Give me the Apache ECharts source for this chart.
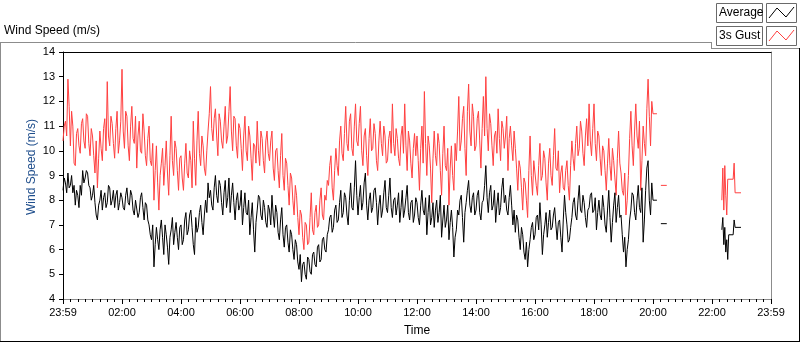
<!DOCTYPE html>
<html>
<head>
<meta charset="utf-8">
<script src="https://cdn.jsdelivr.net/npm/echarts@6/dist/echarts.min.js"></script>
<style>
  html, body { margin: 0; padding: 0; background: #fff; }
  #chart { width: 800px; height: 342px; }
</style>
</head>
<body>
<div id="chart"></div>
<script>
// minutes since midnight; main record sampled every 2.5 minutes from 00:00 to 20:00
const stepMin = 2.5;

// one row per hour
const avgMain = [
  8.4, 8.9, 8.7, 8.3, 9.1, 8.5, 8.6, 9.0, 8.3, 8.6, 7.8, 8.4, 8.2, 7.7, 8.6, 8.2, 9.2, 8.7, 8.9, 9.2, 9.1, 8.6, 8.5, 8.0,
  8.2, 8.6, 7.9, 7.4, 7.2, 7.8, 8.0, 8.4, 7.6, 8.1, 8.3, 7.7, 7.9, 8.6, 8.5, 7.8, 8.0, 8.4, 7.7, 8.2, 8.4, 7.6, 7.9, 8.3,
  8.1, 7.7, 7.6, 8.2, 8.5, 7.9, 7.8, 8.4, 8.2, 7.6, 7.4, 8.0, 8.0, 7.3, 7.5, 8.1, 8.3, 7.7, 7.2, 7.9, 7.8, 7.2, 7.0, 6.6,
  6.4, 7.0, 5.3, 6.2, 6.9, 6.4, 6.0, 6.8, 7.2, 6.5, 5.8, 7.0, 6.6, 6.1, 5.4, 6.5, 6.8, 7.3, 6.2, 6.7, 7.1, 6.5, 6.0, 6.9,
  7.0, 6.2, 6.4, 7.2, 7.5, 6.6, 6.8, 7.4, 7.6, 6.9, 6.2, 5.8, 7.3, 6.7, 6.9, 7.5, 7.8, 7.1, 6.6, 7.4, 8.0, 7.5, 8.7, 8.1,
  8.4, 7.8, 7.6, 8.5, 9.0, 8.2, 7.9, 8.8, 8.6, 7.9, 7.4, 8.3, 8.8, 7.7, 8.1, 8.9, 7.5, 8.2, 8.7, 7.9, 7.2, 8.0, 8.3, 7.6,
  7.8, 8.4, 7.0, 7.7, 8.3, 7.5, 7.4, 8.0, 6.6, 7.3, 7.9, 6.8, 5.9, 7.1, 7.6, 8.2, 8.1, 7.4, 7.2, 8.0, 7.7, 7.1, 6.9, 7.8,
  7.6, 7.0, 8.2, 7.4, 6.9, 7.8, 7.5, 6.7, 6.4, 7.2, 7.7, 6.6, 6.1, 6.9, 7.0, 6.3, 5.9, 6.8, 6.6, 6.0, 5.6, 6.4, 6.2, 5.5,
  5.2, 5.8, 4.7, 5.4, 5.5, 5.0, 4.8, 5.7, 5.6, 5.1, 5.0, 5.8, 5.9, 5.4, 5.3, 6.1, 6.2, 5.5, 5.6, 6.4, 6.5, 6.0, 5.9, 6.6,
  6.8, 7.3, 7.4, 6.7, 6.9, 7.6, 7.8, 7.1, 7.2, 7.9, 8.4, 7.3, 7.5, 8.3, 8.1, 7.4, 7.0, 8.0, 8.7, 7.7, 7.6, 8.5, 9.6, 8.2,
  7.4, 8.1, 8.6, 7.6, 7.9, 8.7, 9.1, 7.8, 7.2, 8.0, 8.3, 7.5, 7.7, 8.4, 8.5, 7.9, 7.0, 7.8, 8.2, 7.3, 7.6, 8.3, 8.8, 7.7,
  7.5, 8.2, 8.9, 7.7, 7.3, 8.0, 8.1, 7.4, 7.8, 8.3, 7.1, 7.7, 8.4, 7.3, 7.6, 8.1, 8.6, 7.5, 7.2, 7.9, 8.0, 7.1, 7.4, 8.1,
  7.9, 7.3, 7.0, 7.8, 8.4, 7.6, 7.4, 8.1, 6.6, 7.5, 8.2, 7.0, 7.3, 7.9, 6.9, 7.6, 8.0, 7.1, 7.5, 8.2, 6.5, 7.2, 7.8, 6.9,
  7.2, 7.8, 6.4, 7.1, 7.6, 6.9, 5.7, 6.5, 6.8, 7.6, 7.4, 8.0, 8.2, 7.3, 6.3, 7.5, 7.9, 8.4, 8.8, 7.8, 7.5, 8.1, 8.3, 7.4,
  7.6, 8.2, 8.4, 7.5, 7.2, 7.9, 8.0, 8.6, 9.4, 8.1, 7.5, 8.3, 8.6, 7.6, 7.8, 8.4, 7.1, 7.8, 8.3, 7.4, 7.7, 8.5, 8.9, 7.9,
  8.2, 7.6, 7.4, 8.1, 8.6, 7.8, 7.0, 7.6, 6.7, 7.4, 7.2, 6.5, 6.0, 6.9, 6.6, 5.9, 5.6, 6.3, 5.3, 6.0, 6.4, 6.9, 7.1, 6.4,
  6.6, 7.3, 7.4, 6.8, 7.9, 7.0, 5.8, 6.6, 7.0, 7.5, 6.5, 7.1, 7.6, 6.8, 6.9, 7.4, 7.7, 7.0, 6.4, 7.1, 7.2, 6.5, 5.9, 7.2,
  8.2, 7.5, 7.0, 6.3, 6.4, 6.9, 7.3, 7.9, 8.1, 7.4, 7.2, 8.0, 8.6, 7.6, 7.5, 8.2, 7.9, 7.3, 6.9, 7.6, 7.7, 8.2, 8.3, 7.5,
  7.6, 8.1, 6.8, 7.5, 8.0, 7.4, 7.2, 8.2, 7.7, 7.0, 6.7, 7.6, 8.4, 7.3, 6.3, 7.1, 7.8, 8.3, 7.1, 7.7, 8.2, 7.3, 7.4, 6.6,
  5.9, 6.5, 5.3, 6.0, 6.4, 7.2, 7.6, 8.3, 8.2, 7.5, 7.2, 8.0, 8.6, 7.7, 7.5, 8.5, 6.3, 7.2, 8.4, 9.3, 9.6, 8.0, 7.4, 8.7,
  8.0
];

const gustMain = [
  10.4, 11.0, 11.2, 10.6, 12.9, 11.8, 10.2, 11.6, 11.0, 9.5, 9.4, 10.7, 10.9, 10.2, 9.9, 11.1, 11.3, 10.4, 10.1, 11.5, 11.4, 10.3, 9.8, 10.9,
  10.6, 9.8, 9.1, 10.4, 8.5, 9.7, 10.8, 10.1, 9.6, 10.9, 11.3, 10.0, 12.8, 10.6, 10.2, 11.4, 11.1, 10.3, 9.7, 10.9, 11.6, 9.9, 10.4, 11.2,
  13.3, 10.8, 10.1, 11.6, 11.4, 10.2, 9.6, 11.0, 11.8, 10.5, 10.3, 11.4, 9.3, 10.6, 11.2, 10.0, 9.9, 11.5, 10.8, 9.8, 9.4, 10.5, 11.0, 9.6,
  9.4, 10.3, 8.0, 9.2, 10.2, 8.7, 7.6, 9.0, 9.5, 10.1, 8.6, 9.4, 10.4, 9.1, 8.2, 9.8, 11.4, 9.6, 9.0, 10.4, 10.1, 9.2, 8.4, 9.7,
  9.8, 8.9, 8.4, 9.5, 10.3, 9.1, 8.9, 10.0, 9.6, 8.5, 11.2, 9.7, 8.6, 10.4, 11.6, 9.9, 9.4, 10.6, 10.2, 9.3, 9.0, 10.0, 10.8, 11.5,
  12.6, 10.9, 10.4, 11.3, 11.7, 10.6, 9.8, 11.5, 11.2, 10.4, 10.1, 11.0, 11.8, 10.3, 10.6, 11.6, 12.6, 10.8, 10.0, 11.4, 11.3, 10.2, 9.7, 11.1,
  10.9, 10.1, 9.2, 10.6, 11.4, 10.0, 9.6, 11.0, 10.6, 9.7, 8.8, 10.3, 10.2, 9.5, 11.2, 10.0, 9.4, 10.8, 10.5, 9.6, 9.1, 10.4, 10.8, 9.9,
  9.6, 10.4, 10.8, 9.3, 8.8, 10.0, 10.1, 9.2, 8.5, 9.8, 10.7, 9.0, 8.4, 9.7, 9.5, 8.6, 7.8, 9.1, 8.9, 8.0, 7.4, 8.6, 8.2, 7.3,
  6.6, 7.6, 7.4, 6.5, 6.0, 7.1, 7.0, 6.2, 6.3, 7.3, 8.3, 6.8, 6.6, 7.5, 7.8, 6.9, 7.0, 8.0, 8.5, 7.4, 7.2, 8.2, 8.0, 8.8,
  8.6, 9.4, 9.8, 8.5, 8.0, 9.2, 10.1, 9.4, 9.0, 10.4, 11.0, 9.9, 9.6, 10.7, 11.8, 10.3, 10.0, 11.2, 11.5, 10.1, 9.8, 11.0, 11.9, 10.4,
  10.2, 11.1, 11.8, 10.0, 9.4, 10.6, 10.9, 9.8, 9.0, 10.5, 11.3, 10.0, 10.1, 11.1, 10.7, 9.6, 9.2, 10.4, 11.2, 10.3, 9.8, 11.0, 10.6, 9.5,
  9.6, 10.5, 10.8, 9.9, 11.9, 10.3, 9.8, 10.9, 10.5, 9.7, 9.4, 10.6, 11.0, 9.9, 11.9, 10.2, 9.2, 10.8, 10.4, 9.5, 8.9, 10.1, 10.7, 9.8,
  10.6, 9.6, 8.4, 10.1, 11.0, 9.5, 12.4, 10.3, 9.0, 10.6, 10.2, 9.3, 7.9, 9.7, 10.8, 9.8, 9.4, 10.7, 10.3, 9.2, 8.2, 9.9, 11.0, 9.4,
  9.2, 10.1, 7.8, 9.3, 10.2, 9.0, 8.4, 10.3, 9.6, 10.8, 12.2, 10.0, 10.4, 11.3, 11.8, 10.1, 9.0, 11.6, 12.7, 10.8, 10.2, 11.9, 11.4, 10.0,
  10.2, 11.3, 11.6, 10.4, 9.3, 10.9, 12.2, 10.6, 13.0, 10.9, 10.0, 11.5, 11.1, 10.2, 9.4, 10.6, 10.8, 9.9, 11.7, 10.5, 9.6, 11.2, 10.9, 10.1,
  10.6, 11.4, 9.2, 10.5, 11.0, 10.2, 9.6, 10.8, 10.1, 9.3, 8.4, 9.6, 9.3, 8.5, 7.6, 8.9, 8.7, 8.0, 7.3, 9.2, 10.6, 9.0, 8.2, 9.6,
  9.6, 8.6, 8.2, 9.4, 10.3, 8.8, 9.0, 10.0, 9.7, 8.7, 8.0, 9.5, 10.1, 9.0, 8.6, 9.8, 10.9, 9.3, 9.2, 10.0, 8.3, 9.1, 9.4, 8.5,
  8.4, 9.2, 9.6, 8.6, 8.0, 9.4, 10.4, 9.7, 9.2, 10.3, 11.0, 9.8, 10.1, 11.2, 10.8, 9.9, 9.4, 10.6, 11.3, 10.2, 11.9, 10.4, 9.8, 10.9,
  11.9, 10.3, 9.6, 10.8, 10.6, 9.7, 9.0, 10.2, 10.0, 9.2, 8.4, 9.5, 10.5, 9.4, 8.8, 10.1, 9.6, 8.9, 8.2, 9.7, 10.8, 9.5, 9.1, 8.4,
  8.2, 9.1, 7.4, 8.0, 9.0, 10.5, 11.6, 10.2, 9.4, 10.8, 11.9, 10.6, 10.1, 11.2, 8.4, 9.6, 11.0, 10.3, 9.8, 11.7, 12.9, 11.4, 10.2, 12.0,
  11.5
];

// sparse readings after 20:00 as [minute, value]; null marks a gap
const avgTail = [
  [1208, 8.0], [1212, null], [1216, 7.05], [1228, 7.05], [1234, null],
  [1340, 6.8], [1342, 7.3], [1344, 6.2], [1346, 6.9], [1348, 5.9], [1350, 6.4],
  [1352, 5.6], [1354, 6.6], [1363, 6.6], [1365, 7.2], [1367, 6.9], [1379, 6.9]
];
const gustTail = [
  [1208, 11.5], [1212, null], [1216, 8.6], [1228, 8.6], [1234, null],
  [1340, 8.0], [1342, 9.3], [1344, 7.6], [1346, 9.4], [1348, 8.2], [1350, 7.4],
  [1352, 8.85], [1363, 8.85], [1365, 9.5], [1367, 8.3], [1379, 8.3]
];

const xTickLabels = ['23:59', '02:00', '04:00', '06:00', '08:00', '10:00', '12:00',
  '14:00', '16:00', '18:00', '20:00', '22:00', '23:59'];

const toPairs = (arr) => arr.map((v, i) => [i * stepMin, v]);
const avgData = toPairs(avgMain).concat(avgTail);
const gustData = toPairs(gustMain).concat(gustTail);

const font = 'Liberation Sans';
const chart = echarts.init(document.getElementById('chart'), null, { renderer: 'canvas' });

const hline = (x1, y1, x2, y2, color) => ({
  type: 'line', silent: true,
  shape: { x1, y1, x2, y2 },
  style: { stroke: color, lineWidth: 1 }
});

chart.setOption({
  animation: false,
  backgroundColor: '#fff',
  grid: { left: 63, top: 52, width: 708, height: 251 },
  xAxis: [{
    type: 'value', min: 0, max: 1440, interval: 120,
    name: 'Time', nameLocation: 'middle', nameGap: 26,
    nameTextStyle: { color: '#000', fontFamily: font, fontSize: 12 },
    axisLine: { onZero: false, lineStyle: { color: '#8c8c8c' } },
    axisTick: { length: 5, lineStyle: { color: '#000' } },
    minorTick: { show: true, splitNumber: 8, length: 3, lineStyle: { color: '#000' } },
    splitLine: { show: false },
    axisLabel: {
      margin: 8, color: '#000', fontFamily: font, fontSize: 11,
      showMinLabel: true, showMaxLabel: true,
      formatter: (v) => xTickLabels[Math.round(v / 120)]
    }
  }, {
    type: 'value', min: 0, max: 1440, position: 'top',
    axisLine: { onZero: false, lineStyle: { color: '#000' } },
    axisTick: { show: false }, axisLabel: { show: false }, splitLine: { show: false }
  }],
  yAxis: [{
    type: 'value', min: 4, max: 14, interval: 1,
    axisLine: { show: true, onZero: false, lineStyle: { color: '#000' } },
    axisTick: { show: true, length: 4, lineStyle: { color: '#000' } },
    splitLine: { show: false },
    axisLabel: { margin: 8, color: '#000', fontFamily: font, fontSize: 11 }
  }, {
    type: 'value', min: 4, max: 14, position: 'right',
    axisLine: { show: true, onZero: false, lineStyle: { color: '#8c8c8c' } },
    axisTick: { show: false }, axisLabel: { show: false }, splitLine: { show: false }
  }],
  series: [{
    name: '3s Gust', type: 'line', data: gustData,
    showSymbol: false, connectNulls: false, z: 2,
    lineStyle: { color: '#ff4040', width: 1 }
  }, {
    name: 'Average', type: 'line', data: avgData,
    showSymbol: false, connectNulls: false, z: 3,
    lineStyle: { color: '#000', width: 1 }
  }],
  graphic: [
    {
      type: 'text', left: 4, top: 25, silent: true,
      style: { text: 'Wind Speed (m/s)', fill: '#000', font: '12px ' + font }
    },
    {
      type: 'text', x: 32, y: 167, rotation: Math.PI / 2, silent: true,
      style: { text: 'Wind Speed (m/s)', fill: '#1f4e8c', font: '12px ' + font,
        align: 'center', verticalAlign: 'middle' }
    },
    hline(0, 42.5, 711, 42.5, '#8c8c8c'),
    hline(711.5, 42, 711.5, 48.5, '#8c8c8c'),
    hline(711, 48.5, 800, 48.5, '#8c8c8c'),
    hline(0.5, 42, 0.5, 342, '#8c8c8c'),
    hline(0, 341.5, 800, 341.5, '#000'),
    hline(799.5, 48, 799.5, 342, '#000'),
    {
      type: 'rect', silent: true, shape: { x: 716.5, y: 3.5, width: 46, height: 19 },
      style: { fill: '#fff', stroke: '#6a6a6a', lineWidth: 1 }
    },
    {
      type: 'rect', silent: true, shape: { x: 766.5, y: 3.5, width: 30, height: 19 },
      style: { fill: '#fff', stroke: '#6a6a6a', lineWidth: 1 }
    },
    {
      type: 'rect', silent: true, shape: { x: 716.5, y: 26.5, width: 46, height: 19 },
      style: { fill: '#fff', stroke: '#6a6a6a', lineWidth: 1 }
    },
    {
      type: 'rect', silent: true, shape: { x: 766.5, y: 26.5, width: 30, height: 19 },
      style: { fill: '#fff', stroke: '#6a6a6a', lineWidth: 1 }
    },
    {
      type: 'text', x: 719, y: 13, silent: true,
      style: { text: 'Average', fill: '#000', font: '12px ' + font, verticalAlign: 'middle' }
    },
    {
      type: 'text', x: 719, y: 36, silent: true,
      style: { text: '3s Gust', fill: '#000', font: '12px ' + font, verticalAlign: 'middle' }
    },
    {
      type: 'polyline', silent: true,
      shape: { points: [[769, 18], [777, 8], [786, 17], [794, 7]] },
      style: { stroke: '#000', lineWidth: 1, fill: null }
    },
    {
      type: 'polyline', silent: true,
      shape: { points: [[769, 41], [777, 31], [786, 40], [794, 30]] },
      style: { stroke: '#ff4040', lineWidth: 1, fill: null }
    }
  ]
});
</script>
</body>
</html>
